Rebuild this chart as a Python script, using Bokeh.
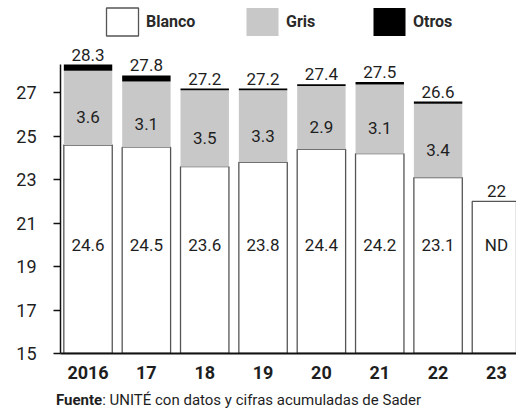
from bokeh.plotting import figure
from bokeh.models import Range1d, FixedTicker, ColumnDataSource, Legend, LegendItem, Div
from bokeh.layouts import column
from bokeh.embed import file_html
from bokeh.resources import INLINE
from bokeh.core.properties import value

# ---- data ----
years = ["2016", "17", "18", "19", "20", "21", "22", "23"]
blanco = [24.6, 24.5, 23.6, 23.8, 24.4, 24.2, 23.1, 22.0]
gris = [3.6, 3.1, 3.5, 3.3, 2.9, 3.1, 3.4]          # 2023: ND
otros = [0.28, 0.28, 0.08, 0.08, 0.08, 0.12, 0.1]   # thin tops
total = [28.3, 27.8, 27.2, 27.2, 27.4, 27.5, 26.6, 22.0]
blanco_labels = ["24.6", "24.5", "23.6", "23.8", "24.4", "24.2", "23.1", "ND"]
gris_labels = ["3.6", "3.1", "3.5", "3.3", "2.9", "3.1", "3.4"]
total_labels = ["28.3", "27.8", "27.2", "27.2", "27.4", "27.5", "26.6", "22"]
y_ticks = [15, 17, 19, 21, 23, 25, 27]

FONT = "Roboto"
TXT = "#1e1e1e"

n_all = len(years)
n_g = len(gris)
xs = list(range(n_all))

o_bottom = [total[i] - otros[i] for i in range(n_g)]
src_b = ColumnDataSource(dict(x=xs, top=blanco, lab=blanco_labels,
                              ly=[20.0] * n_all))
src_g = ColumnDataSource(dict(x=xs[:n_g], bottom=blanco[:n_g], top=o_bottom,
                              lab=gris_labels,
                              ly=[(blanco[i] + o_bottom[i]) / 2 - 0.43 for i in range(n_g)]))
src_o = ColumnDataSource(dict(x=xs[:n_g], bottom=o_bottom, top=total[:n_g]))
src_t = ColumnDataSource(dict(x=xs, y=total, lab=total_labels))

H = 387
FB = 353  # frame bottom in canvas px
p = figure(width=516, height=H, output_backend="svg", toolbar_location=None,
           x_range=Range1d(-0.472, 7.344), y_range=Range1d(15, 15 + FB / 21.72),
           min_border_left=60, min_border_right=0, min_border_top=0,
           min_border_bottom=H - FB)
p.outline_line_color = None
p.grid.visible = False
p.background_fill_color = "white"
p.border_fill_color = "white"

W = 0.83
rb = p.vbar(x="x", width=W, bottom=15, top="top", source=src_b,
            fill_color="white", line_color="#555555", line_width=1.3)
rg = p.vbar(x="x", width=W, bottom="bottom", top="top", source=src_g,
            fill_color="#c8c8c8", line_color=None)
ro = p.vbar(x="x", width=W, bottom="bottom", top="top", source=src_o,
            fill_color="black", line_color=None)

p.text(x="x", y="ly", text="lab", source=src_b, text_align="center",
       text_baseline="middle", text_font=value(FONT), text_font_size="17px",
       text_color=TXT)
p.text(x="x", y="ly", text="lab", source=src_g, text_align="center",
       text_baseline="middle", text_font=value(FONT), text_font_size="17px",
       text_color=TXT)
p.text(x="x", y="y", text="lab", source=src_t, text_align="center",
       text_baseline="bottom", y_offset=-4, text_font=value(FONT),
       text_font_size="17px", text_color=TXT)

# axes
ya = p.yaxis[0]
ya.ticker = FixedTicker(ticks=y_ticks)
ya.bounds = (15, 28.3)
ya.major_label_text_font = FONT
ya.major_label_text_font_size = "18px"
ya.major_label_text_color = TXT
ya.major_tick_out = 7
ya.major_tick_in = 0
ya.minor_tick_out = 0
ya.minor_tick_in = 0
ya.axis_line_width = 1.5
ya.axis_line_color = "#111111"
ya.major_tick_line_color = "#111111"
ya.major_tick_line_width = 1.5
ya.major_label_standoff = 17

xa = p.xaxis[0]
xa.ticker = FixedTicker(ticks=xs)
xa.major_label_overrides = {i: years[i] for i in xs}
xa.major_label_text_font = FONT
xa.major_label_text_font_style = "bold"
xa.major_label_text_font_size = "18px"
xa.major_label_text_color = TXT
xa.major_tick_out = 0
xa.major_tick_in = 0
xa.minor_tick_out = 0
xa.minor_tick_in = 0
xa.axis_line_width = 2.2
xa.axis_line_color = "#111111"
xa.major_label_standoff = 12

# legends (one per item, placed individually)
LY = FB - 8 - 35 + 4
for lab, r, vx in [("Blanco", rb, 42), ("Gris", rg, 182), ("Otros", ro, 309)]:
    lg = Legend(items=[LegendItem(label=lab, renderers=[r])],
                location=(vx, LY), orientation="horizontal",
                glyph_width=40, glyph_height=35, label_standoff=4,
                padding=0, margin=0, spacing=0,
                border_line_alpha=0, background_fill_alpha=0,
                label_text_font=FONT, label_text_font_size="16px",
                label_text_font_style="bold",
                label_text_color="#2a2a2a")
    p.add_layout(lg, "center")

footer = Div(text="<b>Fuente</b>: UNITÉ con datos y cifras acumuladas de Sader",
             width=516, height=24, margin=(0, 0, 0, 0),
             styles={"padding-left": "56px", "padding-top": "5px",
                     "box-sizing": "border-box", "font-family": FONT,
                     "font-size": "15px", "color": TXT, "line-height": "17px",
                     "white-space": "nowrap"})

layout = column(p, footer, spacing=0)
open("out.html", "w").write(file_html(layout, INLINE))
